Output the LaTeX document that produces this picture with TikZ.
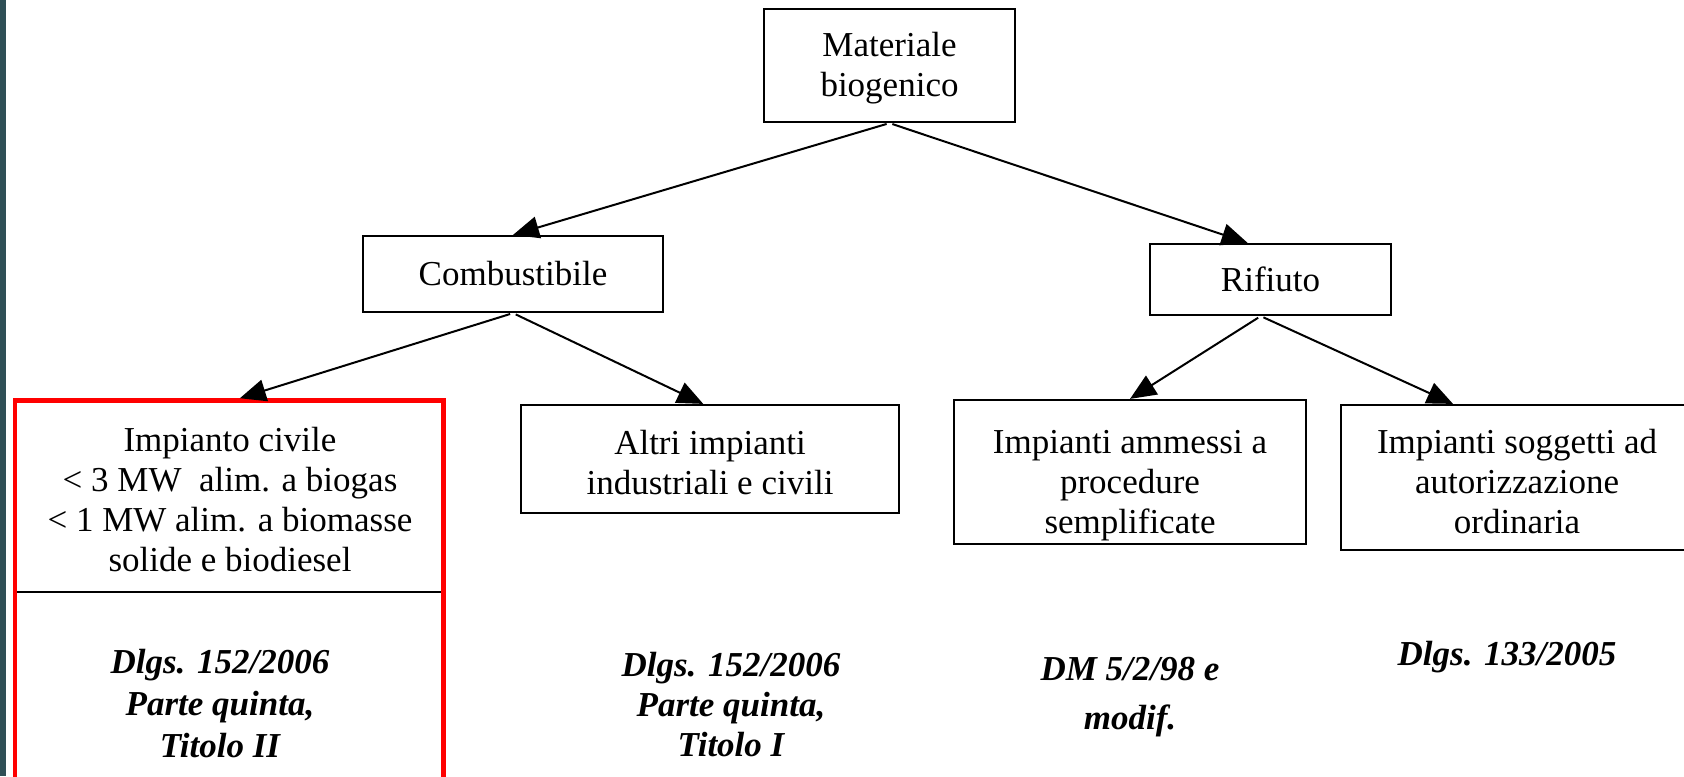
\documentclass[tikz,border=0pt]{standalone}
\usepackage{fontspec}
\setmainfont{Liberation Serif}
\usetikzlibrary{arrows.meta}
\definecolor{edge}{RGB}{47,79,86}
\definecolor{hilite}{RGB}{255,0,0}
\begin{document}
\begin{tikzpicture}[
   x=0.5pt,y=-0.5pt,
   font=\fontsize{17.5}{20}\selectfont,
   box/.style={draw,line width=1.1pt,inner sep=0pt,align=center},
   law/.style={align=center,font=\fontsize{17.5}{20}\selectfont\bfseries\itshape},
   to/.style={-{Triangle[length=13pt,width=11pt]},line width=1pt,shorten <=1.5pt},
   every node/.style={auto}]
\useasboundingbox (0,0) rectangle (1684,776);
\clip (0,0) rectangle (1684,776);
\fill[edge] (0,0) rectangle (6,776);
\node[box,minimum width=125.5pt,minimum height=56.5pt] (Materiale) at (889.5,65.5) {\rule{0pt}{15pt}Materiale\\biogenico};
\node[box,minimum width=150pt,minimum height=38pt] (Combustibile) at (513,274) {Combustibile};
\node[box,minimum width=120.5pt,minimum height=35.5pt] (Rifiuto) at (1270.5,279.5) {Rifiuto};
\node[draw=hilite,line width=2.25pt,inner sep=0pt,minimum width=214.25pt,minimum height=199.75pt] (Civile) at (229.25,600.25) {};
\node[align=center] (CivileTxt) at (230,500) {Impianto civile\\< 3 MW\ \ alim. a biogas\\< 1 MW alim. a biomasse\\solide e biodiesel};
\coordinate (cut) at (0,592);
\draw[line width=1.1pt,shorten <=2.25pt,shorten >=2.25pt] (Civile.west |- cut) -- (Civile.east |- cut);
\node[box,minimum width=189pt,minimum height=54pt] (AltriImp) at (710,459) {\rule{0pt}{16pt}Altri impianti\\industriali e civili};
\node[box,minimum width=176pt,minimum height=72pt] (ImpAmmessi) at (1130,472) {\rule{0pt}{25pt}Impianti ammessi a\\procedure\\semplificate};
\node[box,minimum width=176pt,minimum height=72.5pt] (ImpSoggetti) at (1517,477.5) {\rule{0pt}{16pt}Impianti soggetti ad\\autorizzazione\\ordinaria};
\node[law] (Dlgs152II) at (220,704) {Dlgs. 152/2006\\[1pt]Parte quinta,\\[1pt]Titolo II};
\node[law] (Dlgs152I) at (731,705) {Dlgs. 152/2006\\Parte quinta,\\Titolo I};
\node[law] (DM598) at (1130,697) {DM 5/2/98 e\\[4.5pt]modif.};
\node[law] (Dlgs133) at (1507,657) {Dlgs. 133/2005};
\draw[to]  (Materiale.south) to (Combustibile.north);
\draw[to]  (Materiale.south) to (Rifiuto.122);
\draw[to]  (Combustibile.south) to (Civile.87);
\draw[to]  (Combustibile.south) to (AltriImp.97);
\draw[to]  (Rifiuto.255) to (ImpAmmessi.north);
\draw[to]  (Rifiuto.255) to (ImpSoggetti.131);
\end{tikzpicture}
\end{document}
